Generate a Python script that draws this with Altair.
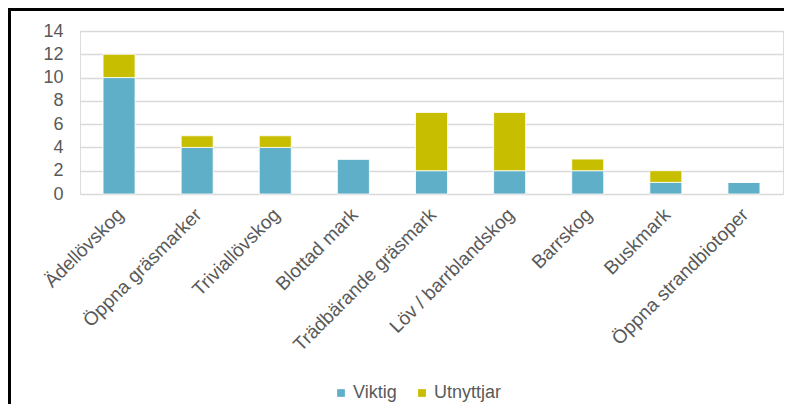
import altair as alt
import pandas as pd

categories = ["Ädellövskog", "Öppna gräsmarker", "Triviallövskog", "Blottad mark",
              "Trädbärande gräsmark", "Löv / barrblandskog", "Barrskog", "Buskmark",
              "Öppna strandbiotoper"]
viktig = [10, 4, 4, 3, 2, 2, 2, 1, 1]
utnyttjar = [2, 1, 1, 0, 5, 5, 1, 1, 0]
series = ["Viktig", "Utnyttjar"]
colors = ["#5FAFC8", "#C8BE00"]
y_ticks = [0, 2, 4, 6, 8, 10, 12, 14]

rows = []
for c, v, u in zip(categories, viktig, utnyttjar):
    rows.append({"kategori": c, "serie": "Viktig", "värde": v, "ordning": 0})
    rows.append({"kategori": c, "serie": "Utnyttjar", "värde": u, "ordning": 1})
df = pd.DataFrame(rows)

FONT = "Liberation Sans"
GRAY = "#595959"

bars = alt.Chart(df).mark_bar(size=32, stroke="white", strokeWidth=0.8).encode(
    x=alt.X("kategori:N", sort=categories, title=None,
            axis=alt.Axis(labelAngle=-45, labelAlign="right", labelBaseline="top",
                          labelPadding=11, labelOffset=-5, domain=False, ticks=False,
                          labelFont=FONT, labelFontSize=19, labelColor=GRAY,
                          labelLimit=300)),
    y=alt.Y("värde:Q", title=None, stack="zero",
            scale=alt.Scale(domain=[0, 14], nice=False),
            axis=alt.Axis(values=y_ticks, domain=False, ticks=False, labelPadding=17,
                          labelFont=FONT, labelFontSize=18, labelColor=GRAY,
                          gridColor="#D9D9D9", gridWidth=1.5)),
    color=alt.Color("serie:N", sort=series,
                    scale=alt.Scale(domain=series, range=colors),
                    legend=alt.Legend(title=None, orient="none", direction="horizontal",
                                      legendX=252, legendY=353, symbolType="square",
                                      symbolSize=60, symbolStrokeWidth=0,
                                      labelFont=FONT, labelFontSize=18, labelColor=GRAY,
                                      columnPadding=16, labelOffset=3)),
    order=alt.Order("ordning:Q", sort="ascending"),
)

left_border = alt.Chart(df).mark_rule(color="black", strokeWidth=2.5, clip=False).encode(
    x=alt.value(-71), y=alt.value(-23), y2=alt.value(400))
top_border = alt.Chart(df).mark_rule(color="black", strokeWidth=2.5, clip=False).encode(
    x=alt.value(-72), x2=alt.value(720), y=alt.value(-22))

chart = alt.layer(bars, left_border, top_border).properties(
    width=703, height=163,
    autosize=alt.AutoSizeParams(type="none"),
    padding={"left": 72, "top": 23, "right": 1, "bottom": 210},
).configure_view(stroke=None).configure(background="white")

chart.save("out.html", embed_options={"renderer": "svg", "actions": False})
